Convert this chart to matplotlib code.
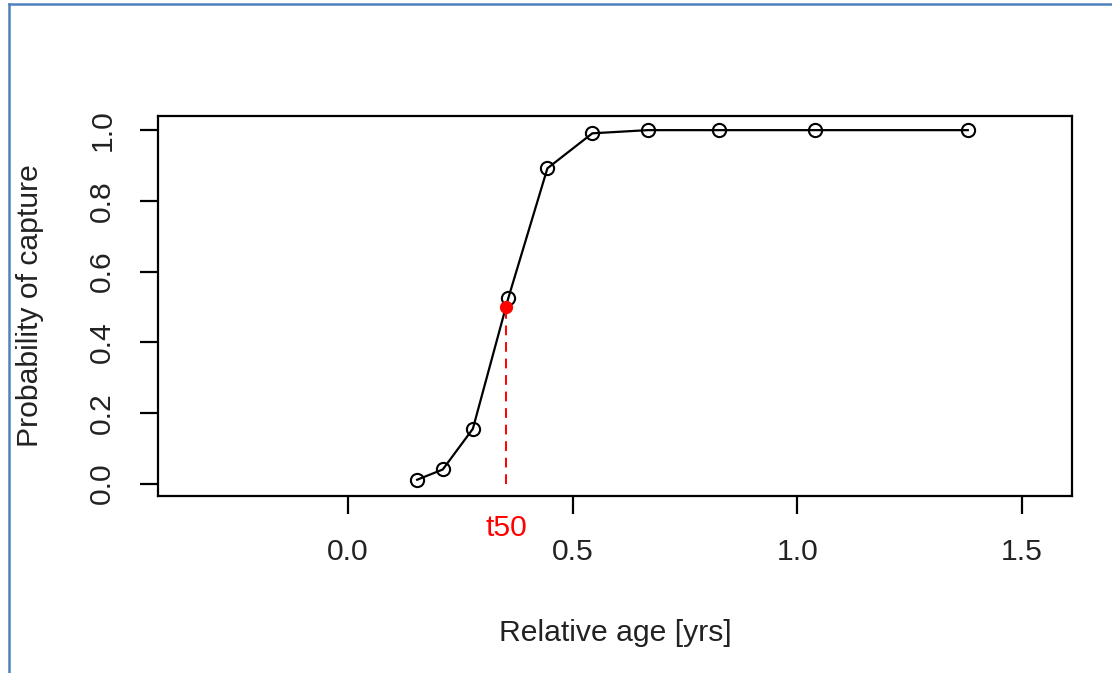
import matplotlib
matplotlib.use('Agg')
import matplotlib.pyplot as plt
from matplotlib.lines import Line2D

plt.rcParams['font.family'] = ['Liberation Sans', 'DejaVu Sans']

# data
age = [0.154, 0.211, 0.278, 0.357, 0.444, 0.544, 0.667, 0.825, 1.039, 1.380]
prob = [0.011, 0.040, 0.155, 0.525, 0.892, 0.991, 1.0, 1.0, 1.0, 1.0]
t50 = 0.352
p50 = 0.5
xticks = [0.0, 0.5, 1.0, 1.5]
yticks = [0.0, 0.2, 0.4, 0.6, 0.8, 1.0]

fs = 21.7

fig = plt.figure(figsize=(11.12, 6.73), dpi=100)
ax = fig.add_axes([158 / 1112, 1 - 496 / 673, 914 / 1112, 380 / 673])

ax.plot(age, prob, color='black', lw=1.6, marker='o', ms=9.5,
        mfc='none', mec='black', mew=1.5)
ax.vlines(t50, 0, p50, colors='red', linestyles=(0, (5, 3.5)), lw=1.4)
ax.plot([t50], [p50], 'o', color='red', ms=8.5)

ax.set_xlim(-0.423, 1.612)
ax.set_ylim(-0.035, 1.04)
ax.set_xticks(xticks)
ax.set_xticklabels(['%.1f' % v for v in xticks])
ax.set_yticks(yticks)
ax.set_yticklabels(['%.1f' % v for v in yticks], rotation=90, va='center')

for s in ax.spines.values():
    s.set_linewidth(1.6)
ax.tick_params(direction='out', length=13, width=1.6, labelsize=fs,
               colors='black', labelcolor='#222222')
ax.tick_params(axis='x', pad=17)
ax.tick_params(axis='y', pad=17)

ax.set_xlabel('Relative age [yrs]', fontsize=fs, color='#222222')
ax.xaxis.set_label_coords(0.5, -0.361)
ax.xaxis.label.set_va('center')
ax.set_ylabel('Probability of capture', fontsize=fs, color='#222222')
ax.yaxis.set_label_coords(-0.14, 0.5)
ax.yaxis.label.set_va('center')

ax.text(t50, -0.085, 't50', color='red', fontsize=fs, ha='center',
        va='center', transform=ax.get_xaxis_transform())

# blue screenshot frame on left and top
blue = '#4f81bd'
fig.add_artist(Line2D([8.5 / 1112, 8.5 / 1112], [0, 1 - 4 / 673],
                      transform=fig.transFigure, color=blue, lw=1.8))
fig.add_artist(Line2D([8.5 / 1112, 1], [1 - 4 / 673, 1 - 4 / 673],
                      transform=fig.transFigure, color=blue, lw=1.8))

fig.savefig('out.png', dpi=100)
